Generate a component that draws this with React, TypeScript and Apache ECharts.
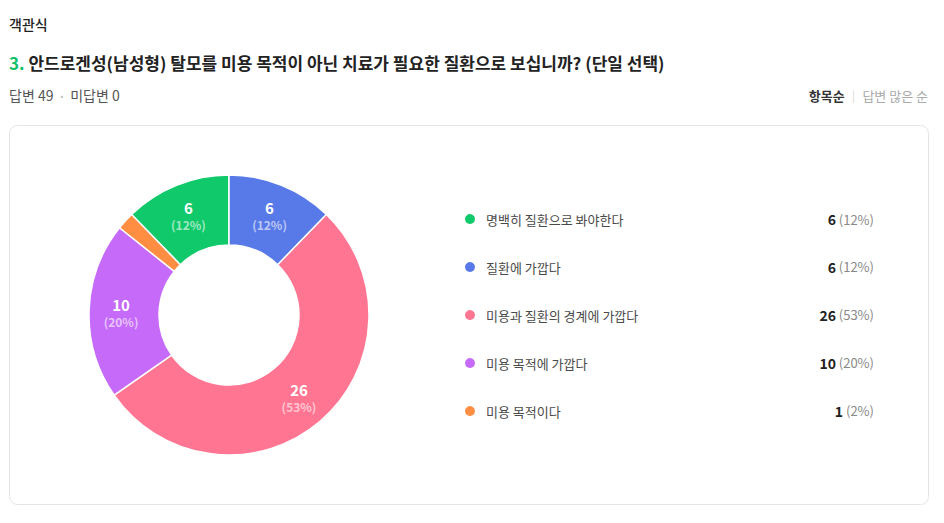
import React, { useEffect, useRef } from 'react';
import * as echarts from 'echarts';

const typeLabel = '객관식';
const questionNo = '3.';
const questionText = '안드로겐성(남성형) 탈모를 미용 목적이 아닌 치료가 필요한 질환으로 보십니까? (단일 선택)';
const answeredLabel = '답변';
const answeredCount = 49;
const unansweredLabel = '미답변';
const unansweredCount = 0;
const sortOptions = ['항목순', '답변 많은 순'];

const categories = [
  '명백히 질환으로 봐야한다',
  '질환에 가깝다',
  '미용과 질환의 경계에 가깝다',
  '미용 목적에 가깝다',
  '미용 목적이다',
];
const counts = [6, 6, 26, 10, 1];
const colors = ['#10c96a', '#5879e8', '#ff7592', '#c66bf9', '#ff8d42'];

const FONT = '"Noto Sans CJK KR", "Noto Sans", sans-serif';

export default function App() {
  const ref = useRef<HTMLDivElement>(null);

  useEffect(() => {
    if (!ref.current) return;
    const chart = echarts.init(ref.current, undefined, { renderer: 'svg' });
    const total = counts.reduce((a, b) => a + b, 0);
    const pct = (v: number) => Math.round((v / total) * 100);

    const option: any = {
      animation: false,
      textStyle: { fontFamily: FONT },
      graphic: [
        {
          type: 'rect',
          z: -10,
          shape: { x: 9.5, y: 125.5, width: 919, height: 379, r: 8 },
          style: { fill: '#fff', stroke: '#e4e4e4', lineWidth: 1 },
        },
        {
          type: 'text',
          style: {
            x: 9, y: 24, text: typeLabel, fontFamily: FONT, fontSize: 14, fontWeight: 500,
            fill: '#222', verticalAlign: 'middle', align: 'left',
          },
        },
        {
          type: 'text',
          style: {
            x: 9, y: 62, verticalAlign: 'middle', align: 'left',
            text: `{g|${questionNo}} {t|${questionText}}`,
            fontFamily: FONT, fontSize: 17, fontWeight: 'bold',
            rich: {
              g: { fill: '#12c06a', fontFamily: FONT, fontSize: 17, fontWeight: 'bold' },
              t: { fill: '#222', fontFamily: FONT, fontSize: 17, fontWeight: 'bold' },
            },
          },
        },
        {
          type: 'text',
          style: {
            x: 9, y: 95, verticalAlign: 'middle', align: 'left',
            text: `{a|${answeredLabel} ${answeredCount}}{d|•}{a|${unansweredLabel} ${unansweredCount}}`,
            fontFamily: FONT, fontSize: 14,
            rich: {
              a: { fill: '#555', fontFamily: FONT, fontSize: 14 },
              d: { fill: '#bbb', fontFamily: FONT, fontSize: 8, padding: [0, 7] },
            },
          },
        },
        {
          type: 'text',
          style: {
            x: 928, y: 95, verticalAlign: 'middle', align: 'right',
            text: `{b|${sortOptions[0]}}{s|   |   }{c|${sortOptions[1]}}`,
            fontFamily: FONT, fontSize: 13,
            rich: {
              b: { fill: '#333', fontFamily: FONT, fontSize: 13, fontWeight: 'bold' },
              s: { fill: '#d5d5d5', fontFamily: FONT, fontSize: 11 },
              c: { fill: '#aaa', fontFamily: FONT, fontSize: 13 },
            },
          },
        },
      ],
      legend: [
        {
          orient: 'vertical',
          left: 463,
          top: 212,
          padding: 0,
          itemWidth: 22,
          itemHeight: 12,
          itemGap: 34,
          icon: 'circle',
          selectedMode: false,
          data: categories,
          textStyle: { color: '#4a4a4a', fontSize: 13, fontFamily: FONT, lineHeight: 12 },
        },
        {
          orient: 'vertical',
          right: 64,
          top: 212,
          padding: 0,
          align: 'right',
          itemWidth: 0,
          itemHeight: 12,
          itemGap: 34,
          icon: 'circle',
          selectedMode: false,
          data: categories,
          itemStyle: { opacity: 0 },
          formatter: (name: string) => {
            const v = counts[categories.indexOf(name)];
            return `{v|${v}} {p|(${pct(v)}%)}`;
          },
          textStyle: {
            fontFamily: FONT,
            fontSize: 13,
            lineHeight: 12,
            rich: {
              v: { color: '#222', fontSize: 14, fontWeight: 'bold', fontFamily: FONT, lineHeight: 12 },
              p: { color: '#888', fontSize: 13, fontFamily: FONT, lineHeight: 12 },
            },
          },
        },
      ],
      series: [
        {
          type: 'pie',
          center: [229, 315],
          radius: [70, 140],
          startAngle: 90 + (360 * counts[0]) / total,
          clockwise: true,
          avoidLabelOverlap: false,
          minShowLabelAngle: 10,
          emphasis: { disabled: true },
          itemStyle: { borderColor: '#fff', borderWidth: 1.5 },
          labelLine: { show: false },
          label: {
            show: true,
            position: 'inside',
            formatter: (p: any) => `{v|${p.value}}\n{p|(${pct(p.value)}%)}`,
            rich: {
              v: { color: '#fff', fontSize: 15, fontWeight: 'bold', fontFamily: FONT, lineHeight: 19 },
              p: { color: 'rgba(255,255,255,0.6)', fontSize: 12, fontWeight: 'bold', fontFamily: FONT, lineHeight: 15 },
            },
          },
          data: categories.map((n, i) => ({
            name: n,
            value: counts[i],
            itemStyle: { color: colors[i] },
          })),
        },
      ],
    };

    chart.setOption(option);
    return () => chart.dispose();
  }, []);

  return (
    <div
      ref={ref}
      style={{ position: 'absolute', left: 0, top: 0, width: 944, height: 523, background: '#fff' }}
    />
  );
}
